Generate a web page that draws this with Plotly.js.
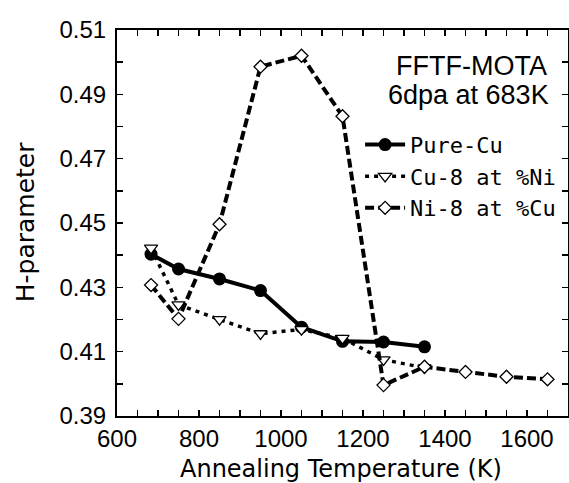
<!DOCTYPE html>
<html>
<head>
<meta charset="utf-8">
<script src="https://cdn.plot.ly/plotly-3.0.1.min.js"></script>
<style>html,body{margin:0;padding:0;background:#fff;}#chart{width:569px;height:483px;}</style>
</head>
<body>
<div id="chart"></div>
<script>
// Annealing temperatures (K)
var temps = [683, 750, 850, 950, 1050, 1150, 1250, 1350, 1450, 1550, 1650];
// Series values (H-parameter)
var pureCuT = temps.slice(0, 8);
var pureCuH = [0.4403, 0.4357, 0.4326, 0.4290, 0.4176, 0.4132, 0.4130, 0.4115];
var cuNiT = temps.slice(0, 8);
var cuNiH = [0.4422, 0.4246, 0.4200, 0.4156, 0.4169, 0.4142, 0.4075, 0.4050];
var niCuT = temps.slice(0, 11);
var niCuH = [0.4307, 0.4202, 0.4496, 0.4986, 0.5020, 0.4832, 0.3996, 0.4053, 0.4037, 0.4022, 0.4014];
var seriesNames = ['Pure-Cu', 'Cu-8 at %Ni', 'Ni-8 at %Cu'];
var noteLines = ['FFTF-MOTA', '6dpa at 683K'];
var xTitle = 'Annealing Temperature (K)';
var yTitle = 'H-parameter';
var xRange = [600, 1700];
var yRange = [0.39, 0.51];

var traces = [
  {x: pureCuT, y: pureCuH, name: seriesNames[0], mode: 'lines+markers',
   line: {color: '#000', width: 4},
   marker: {symbol: 'circle', size: 13, color: '#000'}},
  {x: cuNiT, y: cuNiH, name: seriesNames[1], mode: 'lines+markers',
   line: {color: '#000', width: 3.5, dash: '4px,5px'},
   marker: {symbol: 'triangle-down', size: 11.5, color: '#fff', line: {color: '#000', width: 1.3}}},
  {x: niCuT, y: niCuH, name: seriesNames[2], mode: 'lines+markers',
   line: {color: '#000', width: 4, dash: '9px,4px'},
   marker: {symbol: 'diamond', size: 10, color: '#fff', line: {color: '#000', width: 1.3}}},
  // empty trace so the top/right tick axes are drawn
  {x: [], y: [], xaxis: 'x2', yaxis: 'y2', mode: 'markers', showlegend: false, hoverinfo: 'skip'}
];

var tickCommon = {ticks: 'inside', ticklen: 6, tickwidth: 1.5, tickcolor: '#000',
                  showgrid: false, zeroline: false};

var layout = {
  width: 569, height: 483,
  margin: {l: 117, r: 1, t: 30, b: 67},
  paper_bgcolor: '#fff', plot_bgcolor: '#fff',
  font: {family: 'Liberation Sans, Arial, sans-serif', color: '#000', size: 24},
  showlegend: true,
  legend: {x: 0.539, y: 0.757, xanchor: 'left', yanchor: 'top',
           bgcolor: 'rgba(0,0,0,0)', borderwidth: 0, itemwidth: 40,
           font: {family: 'DejaVu Sans Mono, monospace', size: 22, color: '#000'}},
  xaxis: Object.assign({}, tickCommon, {
    range: xRange, showline: true, linecolor: '#000', linewidth: 2, mirror: true,
    tick0: 600, dtick: 200,
    minor: {dtick: 50, ticks: 'inside', ticklen: 6, tickwidth: 1.5, tickcolor: '#000', showgrid: false},
    tickfont: {size: 24, family: 'Liberation Sans, Arial, sans-serif'}
  }),
  yaxis: Object.assign({}, tickCommon, {
    range: yRange, showline: true, linecolor: '#000', linewidth: 2, mirror: true,
    tick0: 0.39, dtick: 0.02, tickformat: '.2f',
    minor: {dtick: 0.01, ticks: 'inside', ticklen: 6, tickwidth: 1.5, tickcolor: '#000', showgrid: false},
    tickfont: {size: 24, family: 'Liberation Sans, Arial, sans-serif'},
    ticklabelstandoff: 4
  }),
  xaxis2: Object.assign({}, tickCommon, {
    range: xRange, overlaying: 'x', side: 'top', anchor: 'y2', showticklabels: false,
    showline: false, tick0: 600, dtick: 50
  }),
  yaxis2: Object.assign({}, tickCommon, {
    range: yRange, overlaying: 'y', side: 'right', anchor: 'x2', showticklabels: false,
    showline: false, tick0: 0.39, dtick: 0.01
  }),
  annotations: [
    {xref: 'paper', yref: 'paper', x: 0.957, y: 0.908, xanchor: 'right', yanchor: 'middle',
     text: noteLines[0], showarrow: false, font: {size: 27, family: 'Liberation Sans, Arial, sans-serif'}},
    {xref: 'paper', yref: 'paper', x: 0.962, y: 0.832, xanchor: 'right', yanchor: 'middle',
     text: noteLines[1], showarrow: false, font: {size: 27, family: 'Liberation Sans, Arial, sans-serif'}},
    {xref: 'paper', yref: 'paper', x: 0.497, y: -0.097, xanchor: 'center', yanchor: 'top',
     text: xTitle, showarrow: false, font: {size: 24, family: 'DejaVu Sans, sans-serif'}},
    {xref: 'paper', yref: 'paper', x: -0.203, y: 0.503, xanchor: 'center', yanchor: 'middle',
     textangle: -90, text: yTitle, showarrow: false, font: {size: 25, family: 'DejaVu Sans, sans-serif'}}
  ]
};

Plotly.newPlot('chart', traces, layout, {displayModeBar: false, staticPlot: true});
</script>
</body>
</html>
